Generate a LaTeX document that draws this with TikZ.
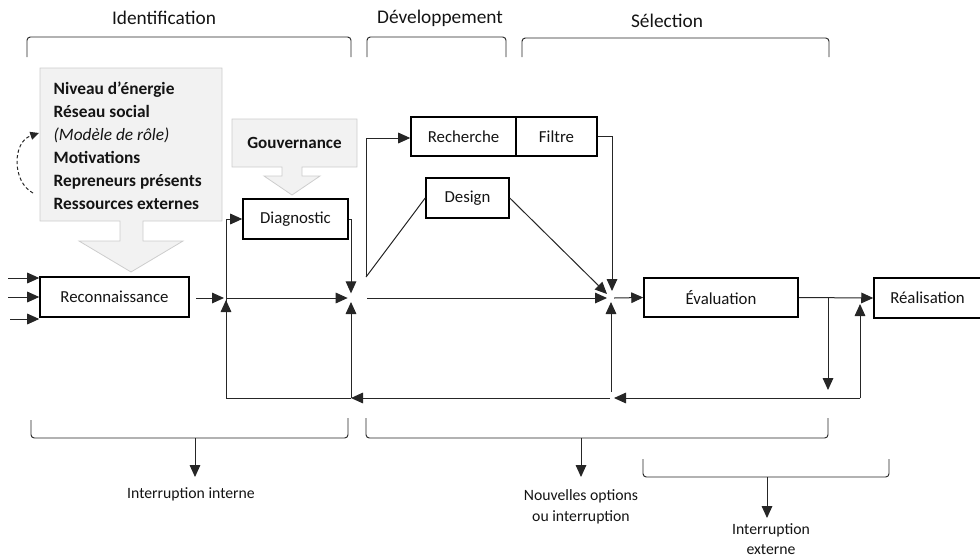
\documentclass[tikz,border=0pt]{standalone}
\usepackage{fontspec}
\setmainfont{Carlito}
\usetikzlibrary{arrows.meta}
\definecolor{greyfill}{HTML}{F2F2F2}
\definecolor{greyline}{HTML}{CDCDCD}
\definecolor{lineC}{HTML}{262626}
\definecolor{txt}{HTML}{141414}
\begin{document}
\begin{tikzpicture}[x=0.75pt,y=-0.75pt,
  box/.style={draw=black,line width=1.15pt,fill=white,minimum width={#1*0.75pt},minimum height=30pt,inner sep=0pt,text=txt,font=\fontsize{12.6}{14}\selectfont},
  conn/.style={draw=lineC,line width=0.75pt},
  arr/.style={conn,-{Triangle[length=9pt,width=8pt]}},
  brk/.style={draw=lineC,line width=0.7pt,rounded corners=2.5pt},
  toplabel/.style={text=txt,font=\fontsize{14.5}{17}\selectfont},
  botlabel/.style={text=txt,align=center,font=\fontsize{11.8}{15.5}\selectfont},
  greyshape/.style={fill=greyfill,draw=greyline,line width=0.6pt}]
\useasboundingbox (0,0) rectangle (980,558);

% top labels and brackets
\node[toplabel] (tid) at (164,18) {Identification};
\node[toplabel] (tdev) at (440,18) {Développement};
\node[toplabel] (tsel) at (667,21) {Sélection};
\draw[brk] (27,57) -- (27,37) -- (351,37) -- (351,57);
\draw[brk] (367,57) -- (367,37) -- (506,37) -- (506,57);
\draw[brk] (522,57) -- (522,38) -- (829,38) -- (829,57);

% grey factor box with block arrow
\draw[greyshape] (40,68) -- (222,68) -- (222,221) -- (143,221) -- (143,241) -- (183,241) -- (131,272) -- (79,241) -- (120,241) -- (120,221) -- (40,221) -- cycle;
\node[anchor=west,align=left,text=txt,font=\bfseries\fontsize{13}{17.25}\selectfont] (facteurs) at (49,145.5)
  {Niveau d’énergie\\Réseau social\\{\mdseries\itshape (Modèle de rôle)}\\Motivations\\Repreneurs présents\\Ressources externes};
\draw[conn,dashed,dash pattern=on 2.5pt off 1.8pt,-{Triangle[length=6.5pt,width=6pt]}] (33,193) .. controls (12,182) and (12,142) .. (39,133);

% Gouvernance
\draw[greyshape] (232,119) -- (357,119) -- (357,167) -- (302,167) -- (302,176) -- (320,176) -- (292,195) -- (264,176) -- (282,176) -- (282,167) -- (232,167) -- cycle;
\node[text=txt,font=\bfseries\fontsize{12.8}{14}\selectfont] (gouv) at (294.5,143) {Gouvernance};

% boxes
\node[box=149] (rec) at (114.5,297) {Reconnaissance};
\node[box=105] (diag) at (295.5,219) {Diagnostic};
\node[box=105,minimum height=29.25pt] (rech) at (463.5,136.5) {Recherche};
\node[box=81,minimum height=29.25pt] (filt) at (556.5,136.5) {Filtre};
\node[box=83] (des) at (467.5,198) {Design};
\node[box=154,minimum height=29.25pt] (eval) at (721,297.5) {Évaluation};
\node[box=107] (real) at (927.5,298) {Réalisation};

% junctions and helper coordinates
\coordinate (j1) at (226,298);
\coordinate (j2) at (351,298);
\coordinate (j3) at (611,298);
\coordinate (in1) at (8,278);
\coordinate (in2) at (8,297);
\coordinate (in3) at (10,319);
\coordinate (recout) at (196,298);
\coordinate (d1) at (226,219);
\coordinate (fb1) at (226,398);
\coordinate (fb2) at (351,398);
\coordinate (fb3) at (610,398);
\coordinate (fb4) at (611,392);
\coordinate (fb5) at (860,398);
\coordinate (m1) at (367,298);
\coordinate (v1) at (366,277);
\coordinate (v2) at (366,138);
\coordinate (j3t) at (612,291);
\coordinate (j3d) at (607,294);
\coordinate (j3b) at (611,302);
\coordinate (j3o) at (614,298);
\coordinate (br) at (828,298);
\coordinate (brend) at (828,390);
\coordinate (realin) at (860,304);
\coordinate (fbend) at (614,398);

% inputs
\draw[arr] (in1) -- (in1 -| rec.west);
\draw[arr] (in2) -- (in2 -| rec.west);
\draw[arr] (in3) -- (in3 -| rec.west);

% first junction
\draw[arr] (recout) -- ([xshift=-1.5pt]j1);
\draw[conn] (d1) -- (fb1);
\draw[arr] (d1) -- (diag.west);
\draw[arr] (fb1) -- ([yshift=-1.5pt]j1);
\draw[arr] (j1) -- ([xshift=-2.5pt]j2);

% second junction
\draw[arr] (diag.east) -| ([yshift=3.5pt]j2);
\draw[arr] (fb2) -- ([yshift=-3pt]j2);
\draw[arr] (fb3) -- (fb2);
\draw[conn] (fb2) -- (fb1);

% development
\draw[arr] (m1) -- ([xshift=-3pt]j3);
\draw[arr] (v1) -- (v2) -- (v2 -| rech.west);
\draw[conn] (v1) -- (des.west);
\draw[arr] (filt.east) -| (j3t);
\draw[arr] (des.east) -- (j3d);
\draw[arr] (fb4) -- (j3b);
\draw[arr] (j3o) -- (eval.west);

% selection
\draw[arr] (eval.east) -- (real.west);
\draw[arr] (br) -- (brend);
\draw[arr] (fb5) -- (realin);
\draw[arr] (fb5) -- (fbend);

% bottom brackets
\draw[brk] (31,420) -- (31,438) -- (348,438) -- (348,418);
\draw[brk] (366,418) -- (366,438) -- (828,438) -- (828,418);
\draw[brk] (643,459) -- (643,477) -- (889,477) -- (889,459);
\coordinate (s1) at (195,438);
\coordinate (s2) at (581,438);
\coordinate (s3) at (767,477);
\node[botlabel] (ii) at (191,494) {Interruption interne};
\node[botlabel] (no) at (581,507) {Nouvelles options\\ou interruption};
\node[botlabel] (ie) at (771,539) {Interruption\\externe};
\draw[arr] (s1) -- (195,477);
\draw[arr] (s2) -- (581,477);
\draw[arr] (s3) -- (767,518);
\end{tikzpicture}
\end{document}
